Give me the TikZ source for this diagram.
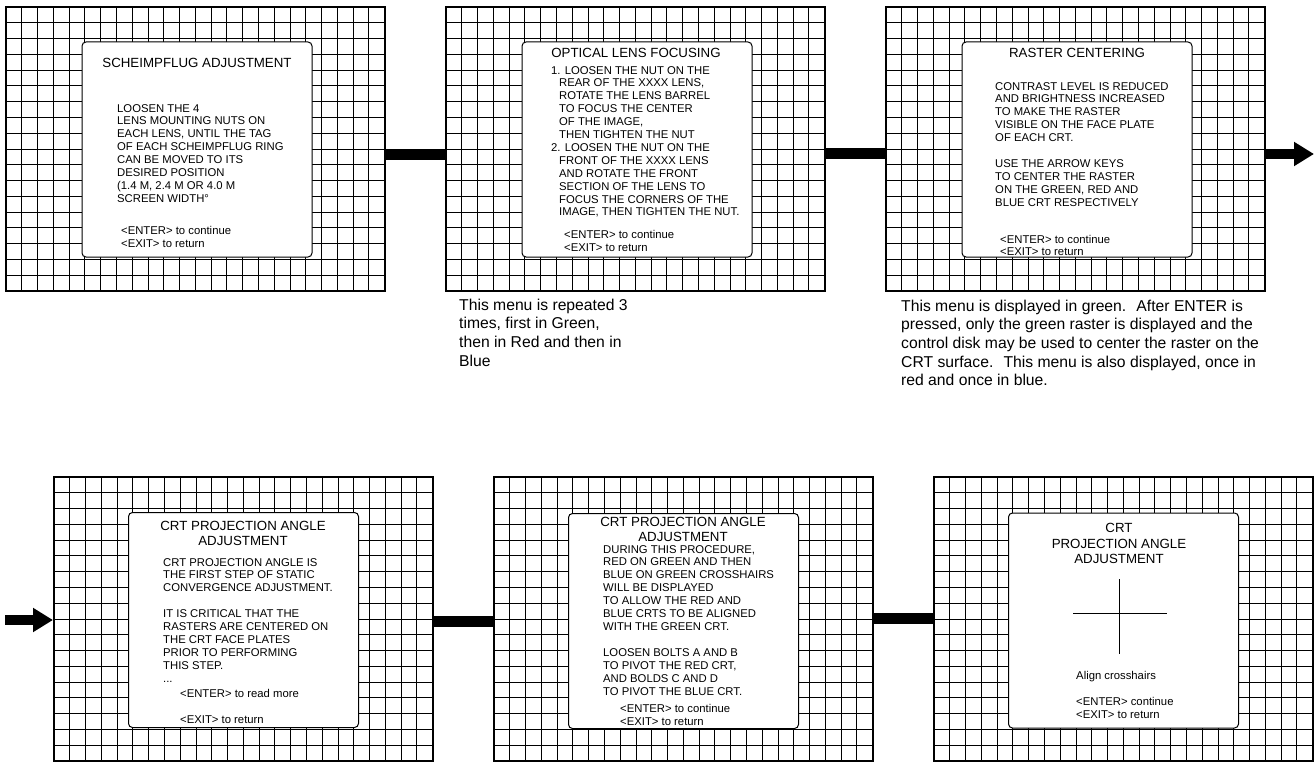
\documentclass[tikz,border=0pt]{standalone}
\usepackage{fontspec}
\setmainfont{Liberation Sans}
\usetikzlibrary{arrows.meta}

\tikzset{
    gridline/.style={line width=1pt},
    screen/.style={draw, line width=2pt, minimum width=378.7pt, minimum height=284pt, inner sep=0pt},
    menubox/.style={draw, fill=white, line width=1pt, rounded corners=4pt, minimum width=230pt, minimum height=215pt},
    menutitle/.style={font=\fontsize{13.3}{15}\selectfont, align=center, inner sep=0pt},
    menutext/.style={font=\fontsize{11.3}{12.9}\selectfont, align=left, anchor=north west, inner sep=0pt},
    notetext/.style={font=\fontsize{15.7}{18.7}\selectfont, align=left, anchor=north west, inner sep=0pt},
    flowbar/.style={line width=11pt},
    flowarrow/.style={line width=10pt, -{Triangle[length=20pt,width=23pt]}},
}

\begin{document}
\begin{tikzpicture}[x=1pt, y=-1pt]
    \useasboundingbox (0,0) rectangle (1314,762);

    % 1. Grid behind every screen (24 x 18 cells)
    \foreach \sx/\sy in {6/7, 446/7, 886/7, 54/477, 494/477, 934/477} {
        \foreach \i in {1,...,23}
            \draw[gridline] (\sx+\i*15.78, \sy) -- ++(0,284);
        \foreach \j in {1,...,17}
            \draw[gridline] (\sx, \sy+\j*15.78) -- ++(378.7,0);
    }

    % 2. Screen frames
    \node[screen] (s1) at (195.35,149) {};
    \node[screen] (s2) at (635.35,149) {};
    \node[screen] (s3) at (1075.35,149) {};
    \node[screen] (s4) at (243.35,619) {};
    \node[screen] (s5) at (683.35,619) {};
    \node[screen] (s6) at (1123.35,619) {};

    % 3. Menu windows (white, rounded)
    \node[menubox] (m1) at (197,149.5) {};
    \node[menubox] (m2) at (637,149.5) {};
    \node[menubox] (m3) at (1077,149.5) {};
    \node[menubox] (m4) at (243.5,620) {};
    \node[menubox] (m5) at (683.5,621) {};
    \node[menubox] (m6) at (1123.5,620.5) {};

    % 4. Flow between the screens
    \draw[flowbar] ([yshift=-6pt]s1.east) -- ([yshift=-6pt]s2.west);
    \draw[flowbar] ([yshift=-5pt]s2.east) -- ([yshift=-5pt]s3.west);
    \coordinate (out3) at (1314,154);
    \draw[flowarrow] ([yshift=-5pt]s3.east) -- (out3);
    \coordinate (in4) at (5,620);
    \draw[flowarrow] (in4) -- ([yshift=-1pt]s4.west);
    \draw[flowbar] ([yshift=-2.5pt]s4.east) -- ([yshift=-2.5pt]s5.west);
    \draw[flowbar] ([yshift=1pt]s5.east) -- ([yshift=1pt]s6.west);

    % 5. Scheimpflug menu
    \node[menutitle] (t1) at (197,63) {SCHEIMPFLUG ADJUSTMENT};
    \node[menutext] (b1) at (117,104) {LOOSEN THE 4\\LENS MOUNTING NUTS ON\\EACH LENS, UNTIL THE TAG\\OF EACH SCHEIMPFLUG RING\\CAN BE MOVED TO ITS\\DESIRED POSITION\\(1.4 M, 2.4 M OR 4.0 M\\SCREEN WIDTH°};
    \node[menutext] (e1) at (121,226) {<ENTER> to continue\\<EXIT> to return};

    % 6. Lens focusing menu
    \node[menutitle] (t2) at (636,53) {OPTICAL LENS FOCUSING};
    \node[menutext] (b2) at (551,66) {1. LOOSEN THE NUT ON THE\\\hspace*{8pt}REAR OF THE XXXX LENS,\\\hspace*{8pt}ROTATE THE LENS BARREL\\\hspace*{8pt}TO FOCUS THE CENTER\\\hspace*{8pt}OF THE IMAGE,\\\hspace*{8pt}THEN TIGHTEN THE NUT\\2. LOOSEN THE NUT ON THE\\\hspace*{8pt}FRONT OF THE XXXX LENS\\\hspace*{8pt}AND ROTATE THE FRONT\\\hspace*{8pt}SECTION OF THE LENS TO\\\hspace*{8pt}FOCUS THE CORNERS OF THE\\\hspace*{8pt}IMAGE, THEN TIGHTEN THE NUT.};
    \node[menutext] (e2) at (564,230) {<ENTER> to continue\\<EXIT> to return};
    \node[notetext] (n2) at (459,298.5) {This menu is repeated 3\\times, first in Green,\\then in Red and then in\\Blue};

    % 7. Raster centering menu
    \node[menutitle] (t3) at (1077,53) {RASTER CENTERING};
    \node[menutext] (b3) at (995,82) {CONTRAST LEVEL IS REDUCED\\AND BRIGHTNESS INCREASED\\TO MAKE THE RASTER\\VISIBLE ON THE FACE PLATE\\OF EACH CRT.\\[12.9pt]USE THE ARROW KEYS\\TO CENTER THE RASTER\\ON THE GREEN, RED AND\\BLUE CRT RESPECTIVELY};
    \node[menutext, font=\fontsize{11.3}{12.5}\selectfont] (e3) at (1000,235) {<ENTER> to continue\\<EXIT> to return};
    \node[notetext] (n3) at (901,299.5) {This menu is displayed in green.~ After ENTER is\\pressed, only the green raster is displayed and the\\control disk may be used to center the raster on the\\CRT surface.~ This menu is also displayed, once in\\red and once in blue.};

    % 8. Projection angle, first page
    \node[menutitle] (t4) at (243,533.5) {CRT PROJECTION ANGLE\\ADJUSTMENT};
    \node[menutext] (b4) at (163,558) {CRT PROJECTION ANGLE IS\\THE FIRST STEP OF STATIC\\CONVERGENCE ADJUSTMENT.\\[12.9pt]IT IS CRITICAL THAT THE\\RASTERS ARE CENTERED ON\\THE CRT FACE PLATES\\PRIOR TO PERFORMING\\THIS STEP.\\...};
    \node[menutext] (e4) at (180,689) {<ENTER> to read more\\[13pt]<EXIT> to return};

    % 9. Projection angle, second page
    \node[menutitle] (t5) at (683,529.5) {CRT PROJECTION ANGLE\\ADJUSTMENT};
    \node[menutext] (b5) at (603,545) {DURING THIS PROCEDURE,\\RED ON GREEN AND THEN\\BLUE ON GREEN CROSSHAIRS\\WILL BE DISPLAYED\\TO ALLOW THE RED AND\\BLUE CRTS TO BE ALIGNED\\WITH THE GREEN CRT.\\[13pt]LOOSEN BOLTS A AND B\\TO PIVOT THE RED CRT,\\AND BOLDS C AND D\\TO PIVOT THE BLUE CRT.};
    \node[menutext] (e5) at (620,704) {<ENTER> to continue\\<EXIT> to return};

    % 10. Crosshair alignment
    \node[menutitle, font=\fontsize{13.3}{15.5}\selectfont] (t6) at (1119,543.5) {CRT\\PROJECTION ANGLE\\ADJUSTMENT};
    \draw[line width=1pt] (1119,579) -- (1119,654);
    \draw[line width=1pt] (1073,613) -- (1167,613);
    \node[menutext] (a6) at (1076,671) {Align crosshairs};
    \node[menutext] (e6) at (1076,697) {<ENTER> continue\\<EXIT> to return};

\end{tikzpicture}
\end{document}
